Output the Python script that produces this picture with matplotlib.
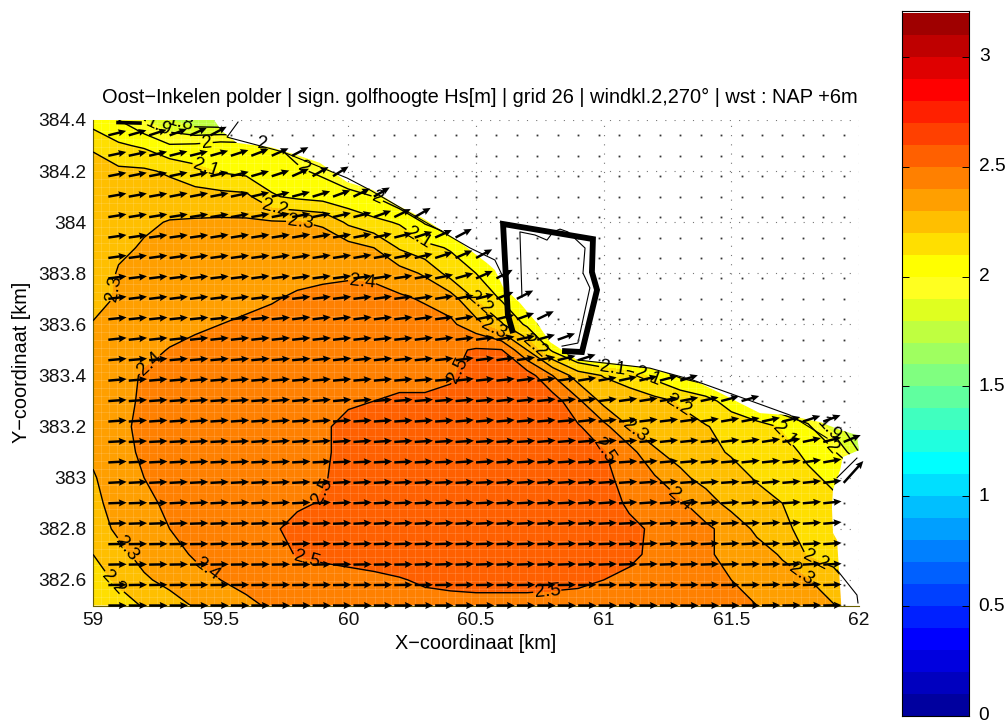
import matplotlib
matplotlib.use('Agg')
import matplotlib.pyplot as plt
from matplotlib.patches import PathPatch
from matplotlib.path import Path
import numpy as np

plt.rcParams['font.family'] = ['Liberation Sans', 'DejaVu Sans']

# colour bands of the bar, bottom to top, 0.1 m each
band_colors = ['#00009f', '#0000bf', '#0000df', '#0000ff', '#0020ff', '#0040ff', '#0060ff', '#0080ff',
               '#009fff', '#00bfff', '#00dfff', '#00ffff', '#20ffdf', '#40ffbf', '#60ff9f', '#80ff80',
               '#9fff60', '#bfff40', '#dfff20', '#ffff20', '#ffff00', '#ffdf00', '#ffbf00', '#ff9f00',
               '#ff8000', '#ff6000', '#ff4000', '#ff2000', '#ff0000', '#df0000', '#bf0000', '#9f0000']

# Hs, rows from y=382.5 up to 384.4, columns x=59..62 (0.1 km)
hs_rows = [
 [2.10,2.15,2.21,2.255,2.31,2.35,2.385,2.41,2.43,2.445,2.455,2.465,2.47,2.475,2.48,2.48,2.48,2.48,2.48,2.48,2.48,2.47,2.46,2.45,2.44,2.42,2.40,2.37,2.335,2.305,2.20],
 [2.15,2.22,2.285,2.33,2.37,2.40,2.42,2.44,2.45,2.46,2.47,2.48,2.495,2.51,2.515,2.52,2.52,2.52,2.515,2.51,2.50,2.49,2.47,2.45,2.42,2.40,2.37,2.335,2.305,2.24,2.15],
 [2.20,2.27,2.335,2.37,2.41,2.43,2.45,2.47,2.505,2.52,2.53,2.54,2.54,2.55,2.55,2.55,2.55,2.55,2.55,2.54,2.53,2.51,2.49,2.46,2.41,2.38,2.34,2.29,2.19,2.16,2.12],
 [2.25,2.32,2.37,2.40,2.43,2.45,2.47,2.49,2.52,2.54,2.55,2.56,2.57,2.57,2.57,2.57,2.57,2.57,2.57,2.56,2.55,2.515,2.49,2.46,2.42,2.36,2.28,2.22,2.17,2.13,2.10],
 [2.28,2.33,2.375,2.42,2.44,2.46,2.47,2.48,2.49,2.505,2.54,2.56,2.57,2.575,2.575,2.575,2.575,2.575,2.57,2.56,2.53,2.49,2.45,2.415,2.34,2.27,2.24,2.20,2.16,2.12,2.08],
 [2.295,2.33,2.40,2.44,2.46,2.47,2.48,2.485,2.49,2.495,2.52,2.56,2.57,2.575,2.58,2.58,2.58,2.575,2.57,2.56,2.52,2.47,2.41,2.32,2.27,2.24,2.19,2.16,2.12,2.08,2.05],
 [2.31,2.36,2.42,2.45,2.47,2.48,2.485,2.49,2.49,2.495,2.51,2.56,2.57,2.58,2.585,2.585,2.58,2.575,2.57,2.55,2.505,2.44,2.31,2.27,2.23,2.19,2.16,2.135,2.08,2.02,1.80],
 [2.33,2.38,2.42,2.46,2.48,2.49,2.49,2.495,2.495,2.495,2.51,2.55,2.57,2.58,2.585,2.585,2.58,2.575,2.56,2.51,2.43,2.30,2.26,2.23,2.205,2.17,2.14,2.09,2.02,1.85,1.70],
 [2.33,2.37,2.415,2.45,2.47,2.48,2.49,2.49,2.49,2.49,2.495,2.50,2.505,2.505,2.51,2.55,2.57,2.57,2.55,2.42,2.27,2.25,2.23,2.19,2.14,2.05,1.96,1.90,1.85,1.80,1.75],
 [2.32,2.365,2.41,2.44,2.46,2.47,2.48,2.485,2.49,2.49,2.49,2.49,2.49,2.49,2.495,2.52,2.56,2.55,2.40,2.25,2.195,2.155,2.07,1.98,1.93,1.90,1.85,1.80,1.75,1.70,1.70],
 [2.32,2.34,2.37,2.405,2.43,2.44,2.45,2.46,2.47,2.475,2.48,2.48,2.47,2.475,2.48,2.51,2.505,2.30,2.08,1.95,1.90,1.85,1.85,1.85,1.85,1.85,1.85,1.85,1.85,1.85,1.85],
 [2.305,2.32,2.34,2.36,2.38,2.40,2.41,2.42,2.43,2.44,2.45,2.45,2.45,2.44,2.42,2.34,2.21,2.08,1.90,1.90,1.85,1.85,1.85,1.85,1.85,1.85,1.85,1.85,1.85,1.85,1.85],
 [2.27,2.31,2.33,2.345,2.36,2.375,2.385,2.395,2.41,2.42,2.425,2.425,2.415,2.39,2.35,2.19,2.09,2.00,1.90,1.90,1.85,1.85,1.85,1.85,1.85,1.85,1.85,1.85,1.85,1.85,1.85],
 [2.22,2.31,2.335,2.345,2.35,2.36,2.365,2.375,2.38,2.385,2.39,2.385,2.345,2.285,2.16,2.10,2.00,1.90,1.85,1.85,1.85,1.85,1.85,1.85,1.85,1.85,1.85,1.85,1.85,1.85,1.85],
 [2.24,2.28,2.31,2.33,2.34,2.35,2.355,2.36,2.36,2.36,2.34,2.30,2.19,2.13,2.09,1.98,1.90,1.85,1.85,1.85,1.85,1.85,1.85,1.85,1.85,1.85,1.85,1.85,1.85,1.85,1.85],
 [2.22,2.25,2.285,2.305,2.31,2.315,2.315,2.31,2.305,2.285,2.18,2.125,2.09,1.99,1.92,1.85,1.85,1.85,1.85,1.85,1.85,1.85,1.85,1.85,1.85,1.85,1.85,1.85,1.85,1.85,1.85],
 [2.23,2.24,2.245,2.25,2.245,2.235,2.225,2.11,2.08,2.06,2.03,2.00,1.92,1.85,1.85,1.85,1.85,1.85,1.85,1.85,1.85,1.85,1.85,1.85,1.85,1.85,1.85,1.85,1.85,1.85,1.85],
 [2.23,2.22,2.215,2.185,2.13,2.09,2.07,2.05,2.015,1.98,1.93,1.88,1.85,1.85,1.85,1.85,1.85,1.85,1.85,1.85,1.85,1.85,1.85,1.85,1.85,1.85,1.85,1.85,1.85,1.85,1.85],
 [2.19,2.115,2.085,2.01,2.02,2.05,2.04,2.01,1.96,1.92,1.88,1.85,1.85,1.85,1.85,1.85,1.85,1.85,1.85,1.85,1.85,1.85,1.85,1.85,1.85,1.85,1.85,1.85,1.85,1.85,1.85],
 [2.05,2.00,1.90,1.80,1.72,1.70,1.70,1.75,1.75,1.75,1.75,1.75,1.75,1.75,1.75,1.75,1.75,1.75,1.75,1.75,1.75,1.75,1.75,1.75,1.75,1.75,1.75,1.75,1.75,1.75,1.75],
]
x_field = [59 + 0.1 * i for i in range(31)]
y_field = [382.5 + 0.1 * i for i in range(20)]

# edge of the wet area (km)
wet_x = [59.00,59.474,59.505,59.564,59.693,59.799,59.889,59.995,60.097,60.191,60.292,60.426,60.543,60.574,60.606,60.672,60.739,60.790,60.837,60.896,61.025,61.181,61.366,61.456,61.534,61.612,61.718,61.847,61.926,61.992,62.0,61.937,61.926,61.898,61.894,61.898,61.914,61.930,61.930,59.00]
wet_y = [384.40,384.40,384.357,384.31,384.294,384.263,384.232,384.157,384.126,384.067,384.016,383.930,383.840,383.813,383.746,383.684,383.605,383.531,383.500,383.461,383.449,383.429,383.375,383.332,383.292,383.253,383.245,383.218,383.187,383.167,383.108,383.081,383.030,382.952,382.885,382.784,382.756,382.51,382.5,382.5]

# thin shore lines (km)
shore_lines = [
 ([59.568,59.525,59.744,59.995,60.085,60.477,60.574,60.606], [384.392,384.333,384.275,384.173,384.126,383.899,383.852,383.785]),
 ([60.680,60.672,60.731,60.778,60.802,60.829,60.860,60.927,60.919,60.946,60.899,60.837], [383.707,383.962,383.950,383.930,383.962,383.973,383.962,383.899,383.801,383.743,383.527,383.515]),
 ([60.896,61.181,61.350,61.534,61.730,61.875], [383.461,383.429,383.382,383.316,383.245,383.155]),
 ([61.992,61.914], [383.077,383.0]),
 ([61.914,61.992,61.996], [382.639,382.541,382.51]),
]

# thick polder outline
polder_x = [60.645,60.625,60.621,60.606,60.958,60.954,60.974,60.915,60.837]
polder_y = [383.566,383.637,383.707,383.993,383.934,383.805,383.735,383.492,383.496]

blob_x = [59.098,59.184]
blob_y = [384.39,384.388]

# wave direction in degrees per arrow, rows from the bottom; a row ends at its last arrow
wave_dir = [
 [0,0,0,0,0,0,0,0,0,0,0,0,0,0,0,0,0,0,0,0,0,0,0,0,0,0,0,0,0,0,0,0,1,1,1,1],
 [1,1,1,1,1,1,1,1,1,1,1,1,1,1,1,1,1,1,1,1,1,1,1,1,1,1,1,1,1,1,1,1,2,2,2,2],
 [1,1,1,1,1,1,1,1,1,1,1,1,1,1,1,2,2,2,2,2,2,2,2,2,2,2,2,2,2,2,2,2,2,2,3,3],
 [1,1,1,1,1,2,2,2,2,2,2,2,2,2,2,2,2,2,2,2,2,2,2,2,2,2,3,3,3,3,3,3,3,3,3,4],
 [2,2,2,2,2,2,2,2,2,2,2,2,3,3,3,3,3,3,3,3,3,3,3,3,3,3,3,3,3,3,3,3,4,4,4,5],
 [2,2,2,3,3,3,3,3,3,3,3,3,3,3,3,3,3,3,3,3,3,3,3,4,4,4,4,4,4,4,4,4,4,4,5,6],
 [3,3,3,3,3,3,3,3,3,3,3,3,3,3,3,3,3,3,3,4,4,4,4,4,4,4,4,4,4,4,4,5,5,5,6,7,48],
 [3,3,3,3,3,3,3,3,3,3,3,3,3,3,3,3,3,4,4,4,4,4,4,4,4,4,5,5,5,5,5,6,6,6,8,10],
 [3,3,3,3,3,3,3,4,4,4,4,4,4,4,4,4,4,4,4,4,4,5,5,5,5,5,5,6,6,6,7,8,9,10,12,14,22],
 [4,4,4,4,4,4,4,4,4,4,4,4,4,4,4,4,4,5,5,5,5,5,5,6,6,6,7,7,8,9,10,11,12,14,18,20],
 [4,4,4,4,4,4,4,4,5,5,5,5,5,5,5,5,5,5,5,6,6,6,6,7,7,8,9,10,11,12,15,16],
 [5,5,5,5,5,5,5,5,5,5,5,5,5,5,5,5,5,6,6,6,7,7,8,9,10,12,14,15,17],
 [5,5,5,5,5,5,5,5,5,5,6,6,6,6,6,6,6,7,7,8,9,10,14,18],
 [6,6,6,6,6,6,6,6,6,6,6,6,6,6,6,7,7,7,8,10,12,16,20],
 [6,6,6,6,6,6,6,6,6,7,7,7,7,7,7,8,8,9,11,14,20,26],
 [7,7,7,7,7,7,7,7,7,7,7,7,7,8,8,8,9,11,14,22,27],
 [7,7,7,7,7,7,7,8,8,8,8,8,8,9,9,10,12,16,24,28],
 [8,8,8,8,8,8,8,8,9,9,9,9,10,10,11,13,18,24,28],
 [8,8,8,8,8,9,9,9,9,10,10,10,11,12,14,18,24,28],
 [9,9,9,9,9,9,10,10,11,11,12,13,14,20,26,30],
 [10,10,10,11,11,11,12,13,14,15,17,20,26,30],
 [11,11,11,12,12,13,14,16,18,24,30,32],
 [12,12,13,14,14,16,18,21,24,28],
 [14,16,18,20,24,28],
]
arrow_km = 0.072
long_arrow = (6, 36, 0.115)  # row, column, length of the one long arrow at the right edge

contour_levels = [1.8, 1.9, 2.0, 2.1, 2.2, 2.3, 2.4, 2.5]
label_spots = [(59.341,384.38),(59.25,384.36),(59.446,384.29),(59.662,384.29),(59.819,384.204),(60.116,384.099),
               (59.439,384.204),(59.713,384.079),(59.811,384.0),(60.288,383.962),(59.059,383.746),(60.054,383.77),
               (59.235,383.429),(60.535,383.707),(60.574,383.598),(60.723,383.508),(60.465,383.402),(61.037,383.433),
               (61.17,383.394),(61.287,383.277),(61.131,383.195),(60.986,383.089),(61.307,382.925),
               (61.70,383.165),(61.879,383.187),(61.898,383.12),(61.828,382.678),(61.781,382.631),(59.889,382.952),
               (59.83,382.658),(60.778,382.572),(59.125,382.717),(59.446,382.639),(59.078,382.588)]

title_text = 'Oost\u2212Inkelen polder | sign. golfhoogte Hs[m] | grid 26 | windkl.2,270\u00b0 | wst : NAP +6m'
x_ticks = [59, 59.5, 60, 60.5, 61, 61.5, 62]
y_ticks = [382.6, 382.8, 383, 383.2, 383.4, 383.6, 383.8, 384, 384.2, 384.4]
bar_ticks = [0, 0.5, 1, 1.5, 2, 2.5, 3]

fig = plt.figure(figsize=(10.08, 7.25), dpi=100)
ax = fig.add_axes([93 / 1008, 1 - 605.5 / 725, 766 / 1008, 485.5 / 725])

levels = np.arange(33) * 0.1
field = np.array(hs_rows)
filled = ax.contourf(x_field, y_field, field, levels=levels, colors=band_colors, zorder=2)
lines = ax.contour(x_field, y_field, field, levels=contour_levels, colors='k', linewidths=1.0, zorder=3)
wet_patch = PathPatch(Path(np.column_stack([wet_x, wet_y])), transform=ax.transData, fc='none', ec='none')
ax.add_patch(wet_patch)
filled.set_clip_path(wet_patch)
lines.set_clip_path(wet_patch)

# pale lattice the reference shows over the colours
lat_v = ax.vlines(np.arange(59, 62, 0.0315), 382.5, 384.4, color='white', lw=0.6, alpha=0.16, zorder=2.5)
lat_h = ax.hlines(np.arange(382.5, 384.4, 0.0315), 59, 62, color='white', lw=0.6, alpha=0.16, zorder=2.5)
lat_v.set_clip_path(wet_patch)
lat_h.set_clip_path(wet_patch)

ax.clabel(lines, manual=label_spots, fmt='%g', fontsize=13.5, inline=True, inline_spacing=1, colors='k')

for sx, sy in shore_lines:
    ax.plot(sx, sy, color='k', lw=0.8, zorder=4)
ax.plot(blob_x, blob_y, color='k', lw=2.6, zorder=4)

# arrows and the dots of the empty grid points
ax_x, ax_y, ax_u, ax_v, dot_x, dot_y = [], [], [], [], [], []
for i in range(24):
    for j in range(37):
        gx = 59.06 + 0.08 * j
        gy = 382.5 + 0.08 * i
        if j < len(wave_dir[i]):
            length = long_arrow[2] if (i, j) == long_arrow[:2] else arrow_km
            ang = np.radians(wave_dir[i][j])
            ax_x.append(gx)
            ax_y.append(gy)
            ax_u.append(length * np.cos(ang))
            ax_v.append(length * np.sin(ang))
        else:
            dot_x.append(gx)
            dot_y.append(gy)
ax.plot(dot_x, dot_y, ls='none', marker='s', ms=1.3, mew=0, color='#333333', zorder=5)
ax.quiver(ax_x, ax_y, ax_u, ax_v, angles='xy', scale_units='xy', scale=1, width=0.0032,
          headwidth=2.9, headlength=3.2, headaxislength=2.9, color='k', zorder=6, clip_on=False)

ax.plot(polder_x, polder_y, color='k', lw=4.2, solid_joinstyle='miter', solid_capstyle='butt', zorder=7)

ax.set_xlim(59, 62)
ax.set_ylim(382.5, 384.4)
ax.set_xticks(x_ticks)
ax.set_xticklabels(['%g' % v for v in x_ticks])
ax.set_yticks(y_ticks)
ax.set_yticklabels(['%g' % v for v in y_ticks])
ax.tick_params(length=0, labelsize=13.8, pad=5, colors='#111111')
ax.grid(True, color='#777777', lw=0.8, ls=(0, (1, 7.3)))
ax.set_axisbelow(True)
ax.spines['top'].set_visible(False)
ax.spines['right'].set_visible(False)
ax.spines['left'].set_color('#6b6000')
ax.spines['bottom'].set_color('#6b6000')
ax.set_xlabel('X\u2212coordinaat [km]', fontsize=14.3, labelpad=3)
ax.set_ylabel('Y\u2212coordinaat [km]', fontsize=14.3, labelpad=5)
ax.set_title(title_text, fontsize=14.45, pad=12, x=0.5045)

# colour bar
cax = fig.add_axes([902 / 1008, 1 - 716 / 725, 67 / 1008, 705 / 725])
for k, col in enumerate(band_colors):
    cax.bar(0.5, 0.1, width=1, bottom=k * 0.1, color=col, lw=0)
cax.set_xlim(0, 1)
cax.set_ylim(0, 3.209)
cax.set_xticks([])
cax.set_yticks(bar_ticks)
cax.set_yticklabels(['%g' % v for v in bar_ticks])
cax.yaxis.tick_right()
cax.tick_params(axis='y', direction='in', left=True, right=True, length=5, width=0.7, labelsize=13.8, pad=7)
for lab in cax.get_yticklabels():
    lab.set_verticalalignment('center')

fig.savefig('out.png', dpi=100)
